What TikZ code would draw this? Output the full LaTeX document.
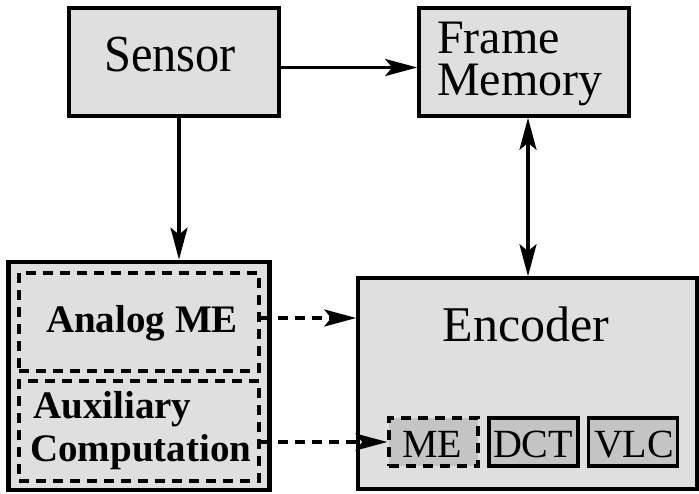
\documentclass[tikz,border=0pt]{standalone}
\usepackage{fontspec}
\setmainfont{Liberation Serif}
\newfontfamily\narrowserif[FakeStretch=0.93]{Liberation Serif}
\usetikzlibrary{arrows.meta}
\definecolor{boxfill}{HTML}{DFDFDF}
\definecolor{subfill}{HTML}{C4C4C4}
\begin{document}
\begin{tikzpicture}[x=1pt,y=-1pt,
  blockbox/.style={draw,line width=3.6pt,fill=boxfill,inner sep=0pt,minimum width=#1},
  subbox/.style={draw,line width=3.4pt,fill=subfill,inner sep=0pt,minimum width=89pt,minimum height=48pt},
  dashbox/.style={draw,line width=3.2pt,dash pattern=on 10pt off 7pt,inner sep=0pt},
  bigtext/.style={inner sep=0pt,anchor=base,font=\fontsize{49}{50}\selectfont},
  smalltext/.style={inner sep=0pt,anchor=base,font=\fontsize{40}{42}\selectfont},
  boldtext/.style={inner sep=0pt,anchor=base,font=\fontsize{39}{42}\selectfont\bfseries},
  tip/.tip={Stealth[length=32pt,width=17pt,inset=7pt]},
  link/.style={line width=3.4pt,-tip},
  dlink/.style={link,line width=3.2pt,dash pattern=on 10pt off 7pt}]
\useasboundingbox (0,0) rectangle (699,493);

% top row
\node[blockbox=210pt,minimum height=108pt] (sensor) at (174,62) {};
\node[blockbox=210pt,minimum height=108pt] (frame) at (524,62) {};
\node[inner sep=0pt,anchor=base,font=\narrowserif\fontsize{52}{54}\selectfont] (sensortxt) at (170,71.5) {Sensor};
\node[inner sep=0pt,anchor=north west,align=left,font=\fontsize{48}{41.5}\selectfont] (frametxt) at (437,22) {Frame\\Memory};

% analog front end
\node[blockbox=261pt,minimum height=228pt,line width=4.8pt] (analog) at (139,376) {};
\node[dashbox,minimum width=240pt,minimum height=98pt] (analogin) at (139,322) {};
\node[dashbox,minimum width=240pt,minimum height=100pt] (auxin) at (139,431) {};
\node[boldtext] (analogtxt) at (142,332) {Analog ME};
\node[boldtext,anchor=base west] (auxtxt) at (33,418) {Auxiliary};
\node[boldtext,anchor=base west] (comptxt) at (30,461) {Computation};

% encoder
\node[blockbox=339pt,minimum height=211pt] (encoder) at (527.5,383.5) {};
\node[bigtext,font=\fontsize{50}{52}\selectfont] (enctxt) at (526,341.5) {Encoder};
\node[subbox,dash pattern=on 10pt off 7pt] (me) at (433.5,442) {};
\node[subbox] (dct) at (533.5,442) {};
\node[subbox] (vlc) at (633,442) {};
\node[smalltext] (metxt) at (432,457) {ME};
\node[smalltext] (dcttxt) at (533,457) {DCT};
\node[smalltext] (vlctxt) at (634,457) {VLC};

% connectors
\coordinate (downx) at (179,0);
\coordinate (bix) at (528,0);
\coordinate (amey) at (0,318);
\draw[link] ([yshift=-5.5pt]sensor.east) -- ([yshift=-5.5pt]frame.west);
\draw[link] (sensor.south -| downx) -- (analog.north -| downx);
\draw[link,tip-tip] (frame.south -| bix) -- (encoder.north -| bix);
\draw[dlink] (analogin.east |- amey) -- (encoder.west |- amey);
\draw[dlink] (auxin.east |- me) -- (me.west);
\end{tikzpicture}
\end{document}
